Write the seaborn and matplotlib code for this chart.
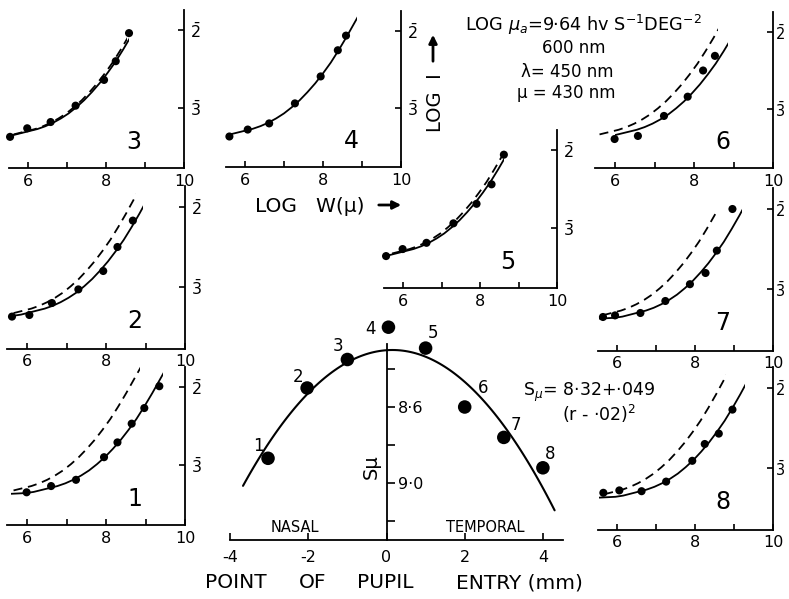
import numpy as np
import matplotlib
matplotlib.use("Agg")
import matplotlib.pyplot as plt
import seaborn as sns
from matplotlib.patches import Rectangle, FancyArrowPatch

sns.set_theme(style="white")
plt.rcParams['font.family'] = ['DejaVu Sans']
plt.rcParams['mathtext.fontset'] = 'dejavusans'
for k in ['text.color', 'axes.labelcolor', 'xtick.color', 'ytick.color', 'axes.edgecolor']:
    plt.rcParams[k] = 'black'

# ---------------- data ----------------
# small panels: log W(mu) (x) vs log I (y, -3 == 3-bar, -2 == 2-bar)
p1_x = [5.99, 6.61, 7.24, 7.95, 8.29, 8.65, 8.97, 9.35]
p1_y = [-3.35, -3.27, -3.19, -2.90, -2.71, -2.47, -2.27, -1.99]
p2_x = [5.62, 6.06, 6.63, 7.30, 7.93, 8.29, 8.68]
p2_y = [-3.37, -3.35, -3.20, -3.03, -2.80, -2.50, -2.17]
p3_x = [5.54, 5.98, 6.58, 7.22, 7.95, 8.25, 8.59]
p3_y = [-3.37, -3.26, -3.18, -2.97, -2.64, -2.40, -2.04]
p4_x = [5.60, 6.07, 6.62, 7.28, 7.94, 8.38, 8.59]
p4_y = [-3.37, -3.28, -3.20, -2.94, -2.59, -2.25, -2.06]
p5_x = [5.56, 5.99, 6.61, 7.31, 7.91, 8.30, 8.62]
p5_y = [-3.36, -3.27, -3.19, -2.94, -2.69, -2.44, -2.06]
p6_x = [5.99, 6.58, 7.24, 7.84, 8.23, 8.53]
p6_y = [-3.39, -3.35, -3.09, -2.84, -2.50, -2.31]
p7_x = [5.64, 5.95, 6.60, 7.24, 7.87, 8.27, 8.56, 8.96]
p7_y = [-3.35, -3.33, -3.30, -3.15, -2.94, -2.80, -2.52, -2.00]
p8_x = [5.65, 6.06, 6.63, 7.26, 7.93, 8.25, 8.61, 8.96]
p8_y = [-3.31, -3.28, -3.29, -3.17, -2.91, -2.70, -2.57, -2.27]

tmpl_x = [4.6, 4.8, 5.0, 5.2, 5.4, 5.6, 5.8, 6.0, 6.2, 6.4, 6.6, 6.8, 7.0,
          7.2, 7.4, 7.6, 7.8, 8.0, 8.2, 8.4, 8.6, 8.8, 9.0, 9.2, 9.4]
tmpl_y = [-3.37, -3.37, -3.37, -3.365, -3.36, -3.345, -3.32, -3.295, -3.27,
          -3.235, -3.19, -3.135, -3.07, -2.99, -2.90, -2.795, -2.68, -2.55,
          -2.41, -2.25, -2.08, -1.90, -1.72, -1.54, -1.35]

# per-panel horizontal shifts and extents of the solid (fit) / dashed curves
solid_shift = {1: 0.57, 2: 0.25, 3: 0.04, 4: 0.0, 5: 0.07, 6: 0.35, 7: 0.54, 8: 0.56}
solid_start = {1: 5.6, 2: 5.6, 3: 5.5, 4: 5.55, 5: 5.55, 6: 5.99, 7: 5.55, 8: 5.55}
solid_end = {1: 9.45, 2: 8.93, 3: 8.59, 4: 8.87, 5: 8.62, 6: 8.87, 7: 9.20, 8: 9.28}
dashed_shift = {1: -0.09, 2: -0.09, 3: -0.02, 5: -0.03, 6: -0.11, 7: -0.10, 8: -0.06}
dashed_start = {1: 5.6, 2: 5.6, 3: 5.5, 5: 5.55, 6: 5.55, 7: 5.55, 8: 5.55}
dashed_end = {1: 8.86, 2: 8.76, 3: 8.55, 5: 8.60, 6: 8.62, 7: 8.56, 8: 8.79}

panel_data = {1: (p1_x, p1_y), 2: (p2_x, p2_y), 3: (p3_x, p3_y), 4: (p4_x, p4_y),
              5: (p5_x, p5_y), 6: (p6_x, p6_y), 7: (p7_x, p7_y), 8: (p8_x, p8_y)}

# central panel: point of pupil entry (mm) vs S_mu
entry_r = [-3.03, -2.03, -1.0, 0.05, 1.0, 2.0, 3.0, 4.0]
entry_s = [8.87, 8.50, 8.35, 8.18, 8.29, 8.60, 8.76, 8.92]
entry_lab = ['1', '2', '3', '4', '5', '6', '7', '8']
fit_s0, fit_k, fit_r0 = 8.30, 0.049, 0.15
fit_range = (-3.67, 4.30)

small_xticks = [6, 7, 8, 9, 10]
small_xlabels = ['6', '', '8', '', '10']
small_yticks = [-2, -3]
small_ylabels = [r'$\bar{2}$', r'$\bar{3}$']
center_xticks = [-4, -2, 0, 2, 4]
center_xlabels = ['-4', '-2', '0', '2', '4']
center_yticks = [8.4, 8.6, 8.8, 9.0, 9.2]
center_ylabels = ['', '8·6', '', '9·0', '']
xlabel_words = ['POINT', 'OF', 'PUPIL', 'ENTRY (mm)']

# ---------------- layout ----------------
W, H = 789, 599
fig = plt.figure(figsize=(W / 100, H / 100), dpi=100)
fig.patch.set_facecolor('white')

XL = (5.5, 10.0)
YL = (-3.77, -1.74)
# pixel calibration: x of 6, x of 8, y of 2-bar, y of 3-bar
cal = {3: (28, 106, 30, 108), 4: (245, 323, 31, 108), 6: (615, 694, 32, 109),
       5: (403, 480, 150, 228), 2: (27, 106, 207, 287), 7: (617, 695, 209, 289),
       1: (27, 106, 387, 465), 8: (617, 695, 388, 468)}
right_col = {6, 7, 8}


def ftext(px, py, s, **kw):
    fig.text(px / W, 1 - py / H, s, **kw)


def draw_curve(ax, shift, start, end, dashed):
    xs = np.array(tmpl_x) + shift
    sns.lineplot(x=xs, y=tmpl_y, ax=ax, color='black', lw=1.3, sort=False,
                 estimator=None)
    ln = ax.lines[-1]
    ln.set_solid_joinstyle('round')
    if dashed:
        ln.set_dashes([5, 3.2])
    ln.set_clip_path(Rectangle((start, -5), end - start, 10, transform=ax.transData))


for pid in [1, 2, 3, 4, 5, 6, 7, 8]:
    x6, x8, y2, y3 = cal[pid]
    sx = (x8 - x6) / 2.0
    sy = (y3 - y2)
    left = x6 + (XL[0] - 6) * sx
    width = (XL[1] - XL[0]) * sx
    top = y2 - (YL[1] + 2) * sy
    height = (YL[1] - YL[0]) * sy
    ax = fig.add_axes([left / W, 1 - (top + height) / H, width / W, height / H])
    ax.set_facecolor('none')
    ax.set_xlim(*XL)
    ax.set_ylim(*YL)
    for s in ['left', 'top']:
        ax.spines[s].set_visible(False)
    for s in ['right', 'bottom']:
        ax.spines[s].set_color('black')
        ax.spines[s].set_linewidth(1.3)
    ax.yaxis.tick_right()
    ax.set_xticks(small_xticks)
    ax.set_xticklabels(small_xlabels)
    ax.set_yticks(small_yticks)
    ax.set_yticklabels(small_ylabels)
    ax.tick_params(axis='x', direction='in', length=4, width=1.2, pad=4,
                   labelsize=11.5, colors='black', bottom=True)
    ax.tick_params(axis='y', direction='in', length=4, width=1.2,
                   pad=1.5 if pid in right_col else 4,
                   labelsize=10.5 if pid in right_col else 11.5,
                   colors='black', right=True, left=False)
    if pid in dashed_shift:
        draw_curve(ax, dashed_shift[pid], dashed_start[pid], dashed_end[pid], True)
    draw_curve(ax, solid_shift[pid], solid_start[pid], solid_end[pid], False)
    xs, ys = panel_data[pid]
    sns.scatterplot(x=xs, y=ys, ax=ax, color='black', s=34, edgecolor='none',
                    zorder=4, clip_on=False)
    ax.text(8.72, -3.43, str(pid), fontsize=17, ha='center', va='center')
    ax.set_xlabel('')
    ax.set_ylabel('')

# ---------------- central panel ----------------
cx0, cpx = 386.5, 39.1
left = cx0 - 4.3 * cpx
width = 8.9 * cpx
top, height = 312, 228
axc = fig.add_axes([left / W, 1 - (top + height) / H, width / W, height / H])
axc.set_facecolor('none')
axc.set_xlim(-4.3, 4.6)
axc.set_ylim(9.3, 8.1)
axc.spines['left'].set_visible(False)
axc.spines['top'].set_visible(False)
axc.spines['right'].set_position(('data', 0))
axc.spines['right'].set_bounds(8.27, 9.3)
axc.spines['bottom'].set_bounds(-4.0, 4.52)
for s in ['right', 'bottom']:
    axc.spines[s].set_color('black')
    axc.spines[s].set_linewidth(1.3)
axc.yaxis.tick_right()
axc.set_xticks(center_xticks)
axc.set_xticklabels(center_xlabels)
axc.set_yticks(center_yticks)
axc.set_yticklabels(center_ylabels)
axc.tick_params(axis='x', direction='in', length=5, width=1.2, pad=7,
                labelsize=11.5, colors='black', bottom=True)
axc.tick_params(axis='y', direction='out', length=6, width=1.2, pad=2,
                labelsize=11.5, colors='black', right=True, left=False)

r_fit = np.linspace(fit_range[0], fit_range[1], 120)
s_fit = fit_s0 + fit_k * (r_fit - fit_r0) ** 2
sns.lineplot(x=r_fit, y=s_fit, ax=axc, color='black', lw=1.5, sort=False,
             estimator=None)
sns.scatterplot(x=entry_r, y=entry_s, ax=axc, color='black', s=95,
                edgecolor='none', zorder=4, clip_on=False)
lab_off = [(-7, 9), (-6.5, 8), (-6.5, 9.5), (-13, -1), (5, 11), (13, 14), (9, 9), (5, 10)]
for r, s, t, off in zip(entry_r, entry_s, entry_lab, lab_off):
    axc.annotate(t, (r, s), xytext=off, textcoords='offset points', fontsize=12,
                 ha='center', va='center')
axc.set_xlabel('')
axc.set_ylabel('')

# ---------------- free texts ----------------
ftext(295, 528, 'NASAL', fontsize=10.5, ha='center', va='center')
ftext(485, 528, 'TEMPORAL', fontsize=10.5, ha='center', va='center')
ftext(371, 467, 'Sμ', fontsize=14, ha='center', va='center', rotation=90)
ftext(523, 392, r'S$_\mu$= 8·32+·049', fontsize=12.5, ha='left', va='center')
ftext(562, 414, r'(r - ·02)$^2$', fontsize=12.5, ha='left', va='center')
for word, wx in zip(xlabel_words, [236, 313, 385, 519]):
    ftext(wx, 583, word, fontsize=14.5, ha='center', va='center')

ftext(465, 25, r'LOG $\mu_a$=9·64 hv S$^{-1}$DEG$^{-2}$', fontsize=12.8,
      ha='left', va='center')
ftext(574, 48, '600 nm', fontsize=12, ha='center', va='center')
ftext(567, 72, 'λ= 450 nm', fontsize=12, ha='center', va='center')
ftext(566, 93, 'μ = 430 nm', fontsize=12, ha='center', va='center')

ftext(435, 103, 'LOG  I', fontsize=14, ha='center', va='center', rotation=90)
fig.add_artist(FancyArrowPatch(
    (433 / W, 1 - 64 / H), (433 / W, 1 - 32 / H), transform=fig.transFigure,
    arrowstyle='-|>', mutation_scale=12, color='black', lw=2))

ftext(255, 206, 'LOG   W(μ)', fontsize=14.5, ha='left', va='center')
fig.add_artist(FancyArrowPatch(
    (376 / W, 1 - 205 / H), (404 / W, 1 - 205 / H), transform=fig.transFigure,
    arrowstyle='-|>', mutation_scale=12, color='black', lw=2))

fig.savefig('out.png', dpi=100, facecolor='white')
